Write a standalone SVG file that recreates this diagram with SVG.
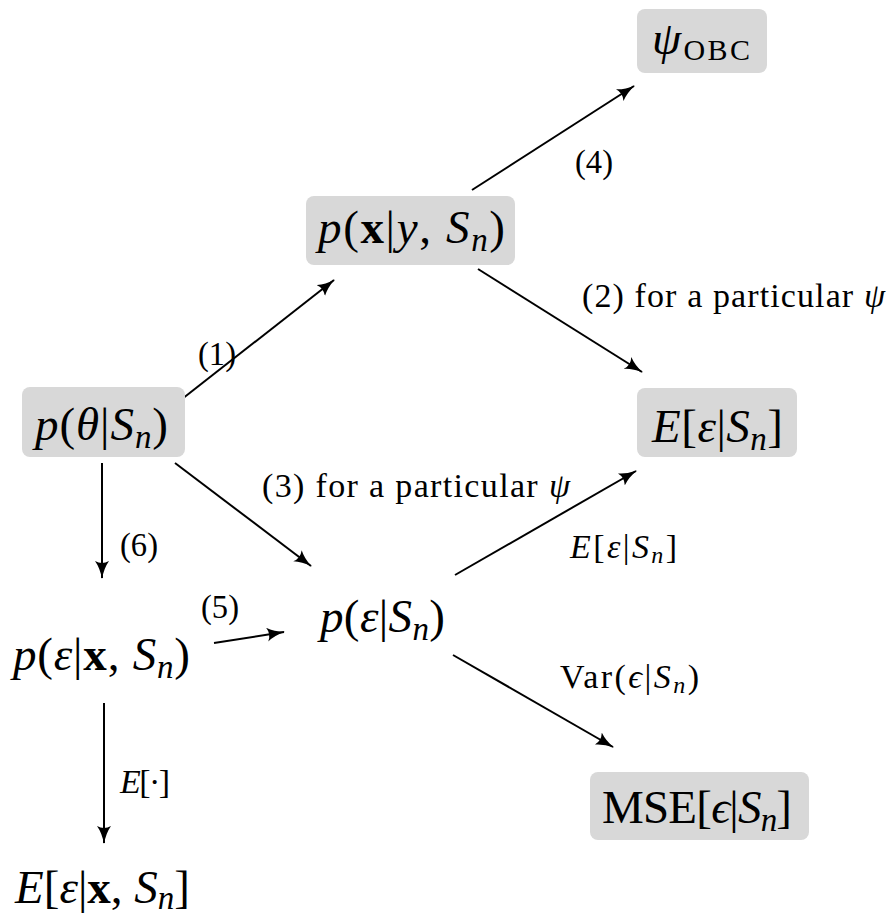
<svg xmlns="http://www.w3.org/2000/svg" width="896" height="921" viewBox="0 0 896 921">
<defs>
<style>
.box{fill:#d8d8d8;}
.m{font-family:"Liberation Serif","DejaVu Serif",serif;font-size:47px;fill:#000;}
.l{font-family:"Liberation Serif","DejaVu Serif",serif;font-size:34px;fill:#000;}
.s{font-family:"Liberation Serif","DejaVu Serif",serif;font-size:34px;fill:#000;}
.i{font-style:italic;}
.b{font-weight:bold;}
.edge{stroke:#000;stroke-width:2;fill:none;marker-end:url(#ah);}
</style>
<marker id="ah" viewBox="0 0 18 14" refX="17" refY="7" markerWidth="18" markerHeight="14" markerUnits="userSpaceOnUse" orient="auto">
<path d="M0,0 Q7,5 18,7 Q7,9 0,14 Q4,7 0,0 Z" fill="#000"/>
</marker>
</defs>
<rect width="896" height="921" fill="#fff"/>
<g id="connectors">
<line class="edge" x1="472" y1="190" x2="634" y2="86"/>
<line class="edge" x1="168" y1="410" x2="334" y2="280"/>
<line class="edge" x1="478" y1="269" x2="642" y2="372"/>
<line class="edge" x1="102" y1="463" x2="102" y2="578"/>
<line class="edge" x1="175" y1="463" x2="311" y2="566"/>
<line class="edge" x1="214" y1="643" x2="284" y2="632"/>
<line class="edge" x1="455" y1="575" x2="636" y2="471"/>
<line class="edge" x1="453" y1="655" x2="613" y2="747"/>
<line class="edge" x1="104" y1="703" x2="104" y2="843"/>
<text class="l" x="575" y="173" textLength="38" lengthAdjust="spacingAndGlyphs">(4)</text>
<text class="l" x="198" y="365" textLength="38" lengthAdjust="spacingAndGlyphs">(1)</text>
<text class="l" x="582" y="307" textLength="303" lengthAdjust="spacing">(2) for a particular <tspan class="i">ψ</tspan></text>
<text class="l" x="262" y="497" textLength="308" lengthAdjust="spacing">(3) for a particular <tspan class="i">ψ</tspan></text>
<text class="l" x="120" y="556" textLength="38" lengthAdjust="spacingAndGlyphs">(6)</text>
<text class="l" x="201" y="618" textLength="38" lengthAdjust="spacingAndGlyphs">(5)</text>
<text class="s" x="570" y="558" textLength="107" lengthAdjust="spacing"><tspan class="i">E</tspan>[<tspan class="i">ε</tspan>|<tspan class="i">S</tspan><tspan class="i" font-size="24" dy="5">n</tspan><tspan dy="-5">]</tspan></text>
<text class="s" x="560" y="688" textLength="139" lengthAdjust="spacing">Var(<tspan class="i">ϵ</tspan>|<tspan class="i">S</tspan><tspan class="i" font-size="24" dy="5">n</tspan><tspan dy="-5">)</tspan></text>
<text class="s" x="120" y="793" textLength="50" lengthAdjust="spacing"><tspan class="i">E</tspan>[·]</text>
</g>
<g id="psi_obc">
<rect class="box" x="637" y="9" width="130" height="64" rx="8"/>
<text class="m" x="652" y="54" textLength="98" lengthAdjust="spacing"><tspan class="i">ψ</tspan><tspan font-size="30" dy="6">OBC</tspan></text>
</g>
<g id="p_x_y">
<rect class="box" x="306" y="196" width="209" height="69" rx="8"/>
<text class="m" x="318" y="243" textLength="187" lengthAdjust="spacing"><tspan class="i">p</tspan>(<tspan class="b">x</tspan>|<tspan class="i">y</tspan>, <tspan class="i">S</tspan><tspan class="i" font-size="33" dy="8">n</tspan><tspan dy="-8">)</tspan></text>
</g>
<g id="p_theta">
<rect class="box" x="22" y="387" width="163" height="70" rx="8"/>
<text class="m" x="35" y="440" textLength="133" lengthAdjust="spacing"><tspan class="i">p</tspan>(<tspan class="i">θ</tspan>|<tspan class="i">S</tspan><tspan class="i" font-size="33" dy="8">n</tspan><tspan dy="-8">)</tspan></text>
</g>
<g id="e_eps">
<rect class="box" x="637" y="388" width="160" height="69" rx="8"/>
<text class="m" x="652" y="442" textLength="131" lengthAdjust="spacing"><tspan class="i">E</tspan>[<tspan class="i">ε</tspan>|<tspan class="i">S</tspan><tspan class="i" font-size="33" dy="8">n</tspan><tspan dy="-8">]</tspan></text>
</g>
<g id="p_eps">
<text class="m" x="320" y="632" textLength="125" lengthAdjust="spacing"><tspan class="i">p</tspan>(<tspan class="i">ε</tspan>|<tspan class="i">S</tspan><tspan class="i" font-size="33" dy="8">n</tspan><tspan dy="-8">)</tspan></text>
</g>
<g id="p_eps_x">
<text class="m" x="13" y="670" textLength="177" lengthAdjust="spacing"><tspan class="i">p</tspan>(<tspan class="i">ε</tspan>|<tspan class="b">x</tspan>, <tspan class="i">S</tspan><tspan class="i" font-size="33" dy="8">n</tspan><tspan dy="-8">)</tspan></text>
</g>
<g id="mse">
<rect class="box" x="590" y="772" width="219" height="68" rx="8"/>
<text class="m" x="602" y="823" textLength="190" lengthAdjust="spacing">MSE[<tspan class="i">ϵ</tspan>|<tspan class="i">S</tspan><tspan class="i" font-size="33" dy="8">n</tspan><tspan dy="-8">]</tspan></text>
</g>
<g id="e_eps_x">
<text class="m" x="15" y="903" textLength="175" lengthAdjust="spacing"><tspan class="i">E</tspan>[<tspan class="i">ε</tspan>|<tspan class="b">x</tspan>, <tspan class="i">S</tspan><tspan class="i" font-size="33" dy="6">n</tspan><tspan dy="-6">]</tspan></text>
</g>
</svg>
